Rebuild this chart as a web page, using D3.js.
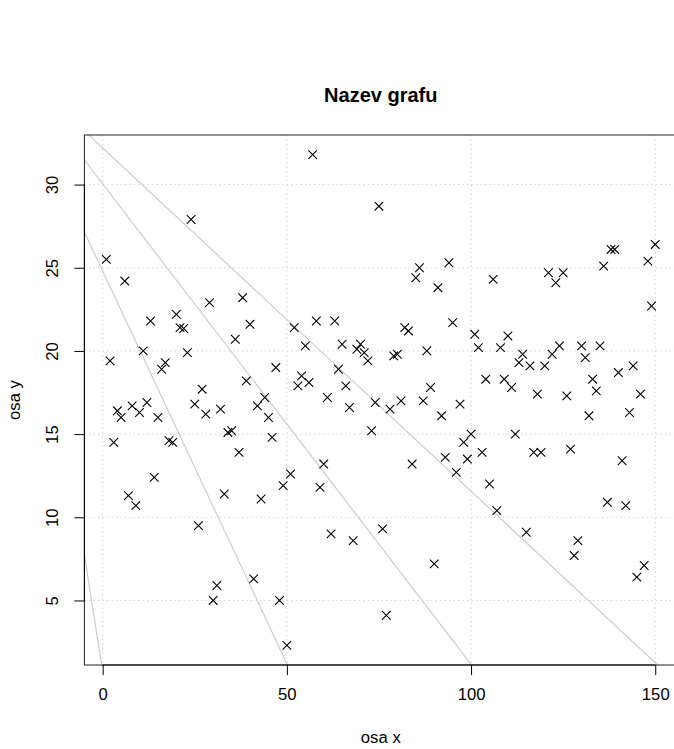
<!DOCTYPE html>
<html>
<head>
<meta charset="utf-8">
<script src="https://cdn.jsdelivr.net/npm/d3@7"></script>
<style>
  body { margin: 0; background: white; }
  text { font-family: "Liberation Sans", Arial, Helvetica, sans-serif; fill: black; }
</style>
</head>
<body>
<script>
// hodnoty y, x je poradi mereni 1..150
let yVals = [
  25.5, 19.4, 14.5, 16.4, 16.0, 24.2, 11.3, 16.7, 10.7, 16.3,
  20.0, 16.9, 21.8, 12.4, 16.0, 18.9, 19.3, 14.6, 14.5, 22.2,
  21.4, 21.35, 19.9, 27.9, 16.8, 9.5, 17.7, 16.2, 22.9, 5.0,
  5.9, 16.5, 11.4, 15.1, 15.2, 20.7, 13.9, 23.2, 18.2, 21.6,
  6.3, 16.7, 11.1, 17.2, 16.0, 14.8, 19.0, 5.0, 11.9, 2.3,
  12.6, 21.4, 17.9, 18.5, 20.3, 18.1, 31.8, 21.8, 11.8, 13.2,
  17.2, 9.0, 21.8, 18.9, 20.4, 17.9, 16.6, 8.6, 20.1, 20.4,
  19.9, 19.4, 15.2, 16.9, 28.7, 9.3, 4.1, 16.5, 19.7, 19.8,
  17.0, 21.4, 21.2, 13.2, 24.4, 25.0, 17.0, 20.0, 17.8, 7.2,
  23.8, 16.1, 13.6, 25.3, 21.7, 12.7, 16.8, 14.5, 13.5, 15.0,
  21.0, 20.2, 13.9, 18.3, 12.0, 24.3, 10.4, 20.2, 18.3, 20.9,
  17.8, 15.0, 19.3, 19.8, 9.1, 19.1, 13.9, 17.4, 13.9, 19.1,
  24.7, 19.8, 24.1, 20.3, 24.7, 17.3, 14.1, 7.7, 8.6, 20.3,
  19.6, 16.1, 18.3, 17.6, 20.3, 25.1, 10.9, 26.1, 26.1, 18.7,
  13.4, 10.7, 16.3, 19.1, 6.4, 17.4, 7.1, 25.4, 22.7, 26.4
];

// sede primky (abline a, b)
let lineA = [32.2, 30.04, 24.8, 0.73];
let lineB = [-0.2063, -0.2888, -0.472, -1.415];

let xTicks = [0, 50, 100, 150];
let yTicks = [5, 10, 15, 20, 25, 30];

let data = yVals.map((v, i) => ({x: i + 1, y: v}));

let w = 674, h = 749;
let plotL = 84.4, plotR = 677.2, plotT = 135, plotB = 665;

// rozsah jako v R: +-4 %
let xr = d3.extent(data, d => d.x);
let yr = d3.extent(data, d => d.y);
let xpad = (xr[1] - xr[0]) * 0.04;
let ypad = (yr[1] - yr[0]) * 0.04;

let x = d3.scaleLinear().domain([xr[0] - xpad, xr[1] + xpad]).range([plotL, plotR]);
let y = d3.scaleLinear().domain([yr[0] - ypad, yr[1] + ypad]).range([plotB, plotT]);

let svg = d3.select("body")
  .append("svg")
    .attr("width", w)
    .attr("height", h);

svg.append("clipPath").attr("id", "plotclip")
  .append("rect")
    .attr("x", plotL).attr("y", plotT)
    .attr("width", plotR - plotL).attr("height", plotB - plotT);

let plot = svg.append("g").attr("clip-path", "url(#plotclip)");

// mrizka
plot.selectAll(".vgrid").data(xTicks).enter()
  .append("line")
    .attr("class", "vgrid")
    .attr("x1", d => x(d)).attr("x2", d => x(d))
    .attr("y1", plotT).attr("y2", plotB)
    .attr("stroke", "#d3d3d3")
    .attr("stroke-dasharray", "1.5,3");

plot.selectAll(".hgrid").data(yTicks).enter()
  .append("line")
    .attr("class", "hgrid")
    .attr("x1", plotL).attr("x2", plotR)
    .attr("y1", d => y(d)).attr("y2", d => y(d))
    .attr("stroke", "#d3d3d3")
    .attr("stroke-dasharray", "1.5,3");

// primky
let x0 = x.domain()[0], x1 = x.domain()[1];
plot.selectAll(".abline").data(lineA).enter()
  .append("line")
    .attr("class", "abline")
    .attr("x1", x(x0)).attr("x2", x(x1))
    .attr("y1", (a, i) => y(a + lineB[i] * x0))
    .attr("y2", (a, i) => y(a + lineB[i] * x1))
    .attr("stroke", "#cccccc")
    .attr("stroke-width", 1.2);

// body pch = 4
let s = 4.3;
plot.selectAll(".pt").data(data).enter()
  .append("path")
    .attr("class", "pt")
    .attr("transform", d => "translate(" + x(d.x) + "," + y(d.y) + ")")
    .attr("d", "M" + (-s) + "," + (-s) + "L" + s + "," + s + "M" + (-s) + "," + s + "L" + s + "," + (-s))
    .attr("stroke", "black")
    .attr("stroke-width", 1.1)
    .attr("fill", "none");

// ramecek
svg.append("rect")
  .attr("x", plotL).attr("y", plotT)
  .attr("width", plotR - plotL).attr("height", plotB - plotT)
  .attr("fill", "none")
  .attr("stroke", "#222")
  .attr("stroke-width", 1);

// osy
let xAxis = svg.append("g")
  .attr("transform", "translate(0," + plotB + ")")
  .call(d3.axisBottom(x).tickValues(xTicks).tickSize(10).tickPadding(13));
xAxis.select(".domain").remove();
xAxis.append("line")
  .attr("x1", x(xTicks[0])).attr("x2", x(xTicks[xTicks.length - 1]))
  .attr("stroke", "black");
xAxis.selectAll("text").attr("font-size", "16.7px").attr("font-family", null);

let yAxis = svg.append("g")
  .attr("transform", "translate(" + plotL + ",0)")
  .call(d3.axisLeft(y).tickValues(yTicks).tickSize(10));
yAxis.select(".domain").remove();
yAxis.append("line")
  .attr("y1", y(yTicks[0])).attr("y2", y(yTicks[yTicks.length - 1]))
  .attr("stroke", "black");
yAxis.selectAll("text")
  .attr("x", 0).attr("dy", null)
  .attr("transform", "translate(-26,0) rotate(-90)")
  .attr("text-anchor", "middle")
  .attr("font-size", "16.7px")
  .attr("font-family", null);

// popisky
svg.append("text")
  .attr("x", (plotL + plotR) / 2).attr("y", 102)
  .attr("text-anchor", "middle")
  .attr("font-size", "20px")
  .attr("font-weight", "bold")
  .text("Nazev grafu");

svg.append("text")
  .attr("x", (plotL + plotR) / 2).attr("y", 743)
  .attr("text-anchor", "middle")
  .attr("font-size", "16.7px")
  .text("osa x");

svg.append("text")
  .attr("transform", "translate(20," + (plotT + plotB) / 2 + ") rotate(-90)")
  .attr("text-anchor", "middle")
  .attr("font-size", "16.7px")
  .text("osa y");
</script>
</body>
</html>
